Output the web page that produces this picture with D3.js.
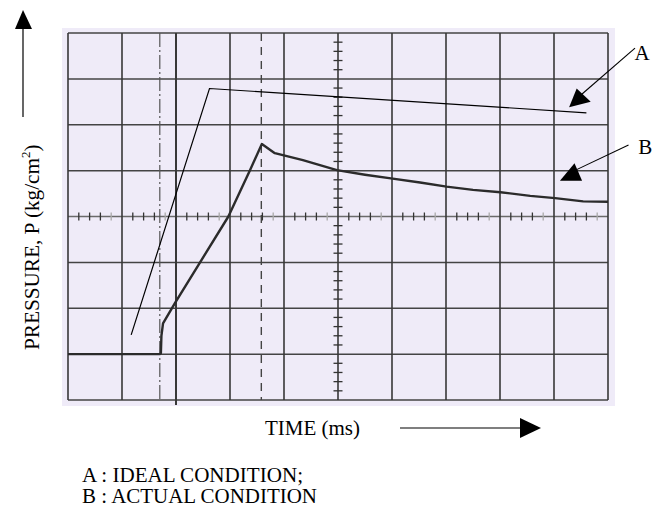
<!DOCTYPE html>
<html>
<head>
<meta charset="utf-8">
<script src="https://cdn.jsdelivr.net/npm/d3@7.9.0/dist/d3.min.js"></script>
<style>
  body { margin: 0; background: #fff; }
  svg { display: block; }
  svg text { font-family: "Liberation Serif", "DejaVu Serif", serif; }
</style>
</head>
<body>
<svg id="chart" width="665" height="508"></svg>
<script>
// screen divisions of the scope trace: x 0..10, y 0..8
const xDivs = d3.range(0, 11);
const yDivs = d3.range(0, 9);

// B: actual condition (measured trace)
const actualX = [0, 1.70, 1.72, 1.73, 1.76, 1.98, 2.44, 2.97, 3.37, 3.59, 3.83, 4.35, 4.98, 5.50, 5.98, 6.52, 7.01, 7.50, 8.01, 8.56, 9.02, 9.54, 10.0];
const actualY = [1.00, 1.00, 1.02, 1.40, 1.67, 2.11, 2.99, 4.00, 5.01, 5.58, 5.38, 5.23, 5.01, 4.91, 4.83, 4.74, 4.65, 4.58, 4.53, 4.45, 4.40, 4.33, 4.32];

// A: ideal condition
const idealX = [1.17, 2.62, 9.60];
const idealY = [1.42, 6.79, 6.26];

// reference cursors
const dashDotX = 1.70;
const dashedX = 3.58;

// annotation arrows: label, line start, head triangle
const labels = ['A', 'B'];
const labelPos = [[10.63, 7.56], [10.69, 5.51]];
const lineFrom = [[10.50, 7.67], [10.38, 5.56]];
const lineTo = [[9.45, 6.60], [9.38, 5.00]];
const heads = [
  [[9.28, 6.38], [9.42, 6.79], [9.68, 6.50]],
  [[9.11, 4.78], [9.52, 4.78], [9.38, 5.16]]
];

const legendLines = ['A : IDEAL CONDITION;', 'B : ACTUAL CONDITION'];
const legendWidths = [221, 235];

const svg = d3.select('#chart');
const x = d3.scaleLinear().domain([0, 10]).range([68, 608]);
const y = d3.scaleLinear().domain([0, 8]).range([400, 33]);

// paper
svg.append('rect')
  .attr('x', 62).attr('y', 28).attr('width', 553).attr('height', 378)
  .attr('fill', '#efebf8');

// grid
svg.append('g').selectAll('line').data(yDivs).join('line')
  .attr('x1', x(0)).attr('x2', x(10))
  .attr('y1', d => y(d)).attr('y2', d => y(d))
  .attr('stroke', d => d === 4 ? '#6a6a6a' : '#444')
  .attr('stroke-width', 1.5);

svg.append('g').selectAll('line').data(xDivs).join('line')
  .attr('x1', d => x(d)).attr('x2', d => x(d))
  .attr('y1', y(8)).attr('y2', d => d === 2 ? y(0) + 5 : y(0))
  .attr('stroke', '#383838')
  .attr('stroke-width', d => d === 2 ? 2 : 1.6);

// minor ticks on centre axes
const minor = d3.range(0, 10.01, 0.2).filter(v => Math.abs(v - Math.round(v)) > 0.01);
svg.append('g').selectAll('line').data(minor).join('line')
  .attr('x1', d => x(d)).attr('x2', d => x(d))
  .attr('y1', y(4) - 4).attr('y2', y(4) + 4)
  .attr('stroke', (d, i) => (i % 4 === 3) ? '#aaa' : '#333')
  .attr('stroke-width', 1.3);

const minorY = d3.range(0, 8.01, 0.2).filter(v => Math.abs(v - Math.round(v)) > 0.01);
svg.append('g').selectAll('line').data(minorY).join('line')
  .attr('x1', x(5) - 4.5).attr('x2', x(5) + 4.5)
  .attr('y1', d => y(d)).attr('y2', d => y(d))
  .attr('stroke', '#333')
  .attr('stroke-width', 1.3);

// cursors
svg.append('line')
  .attr('x1', x(dashDotX)).attr('x2', x(dashDotX))
  .attr('y1', y(8)).attr('y2', y(0))
  .attr('stroke', '#555').attr('stroke-width', 1.2)
  .attr('stroke-dasharray', '14,3,2,3');
svg.append('line')
  .attr('x1', x(dashedX)).attr('x2', x(dashedX))
  .attr('y1', y(8)).attr('y2', y(0))
  .attr('stroke', '#444').attr('stroke-width', 1.4)
  .attr('stroke-dasharray', '8,6');

// traces
const line = d3.line().x(d => x(d[0])).y(d => y(d[1]));
svg.append('path')
  .attr('d', line(d3.zip(actualX, actualY)))
  .attr('fill', 'none').attr('stroke', '#2b2b2b')
  .attr('stroke-width', 2.4).attr('stroke-linejoin', 'round');

svg.append('path')
  .attr('d', line(d3.zip(idealX, idealY)))
  .attr('fill', 'none').attr('stroke', '#000')
  .attr('stroke-width', 1.2);

// annotation arrows
labels.forEach((lab, i) => {
  svg.append('line')
    .attr('x1', x(lineFrom[i][0])).attr('y1', y(lineFrom[i][1]))
    .attr('x2', x(lineTo[i][0])).attr('y2', y(lineTo[i][1]))
    .attr('stroke', '#000').attr('stroke-width', 1.1);
  svg.append('polygon')
    .attr('points', heads[i].map(p => [x(p[0]), y(p[1])].join(',')).join(' '))
    .attr('fill', '#000');
  svg.append('text')
    .attr('x', x(labelPos[i][0])).attr('y', y(labelPos[i][1]) + 7)
    .attr('text-anchor', 'middle')
    .attr('font-size', 21).text(lab);
});

// y axis arrow + title
svg.append('line').attr('x1', 23).attr('x2', 23).attr('y1', 26).attr('y2', 117)
  .attr('stroke', '#000').attr('stroke-width', 1.2);
svg.append('polygon').attr('points', '23,10 15,29 32,29').attr('fill', '#000');

const yTitle = svg.append('text')
  .attr('transform', 'translate(39,350) rotate(-90)')
  .attr('font-size', 21);
yTitle.append('tspan').attr('textLength', 192).attr('lengthAdjust', 'spacingAndGlyphs')
  .text('PRESSURE, P (kg/cm');
yTitle.append('tspan').attr('font-size', 13).attr('dy', -9).text('2');
yTitle.append('tspan').attr('dy', 9).text(')');

// x title + arrow
svg.append('text').attr('x', 265).attr('y', 435)
  .attr('font-size', 21)
  .attr('textLength', 95).attr('lengthAdjust', 'spacingAndGlyphs')
  .text('TIME (ms)');
svg.append('line').attr('x1', 400).attr('x2', 522).attr('y1', 428).attr('y2', 428)
  .attr('stroke', '#000').attr('stroke-width', 1.2);
svg.append('polygon').attr('points', '520,418 520,438 541,428').attr('fill', '#000');

// legend
svg.append('g').selectAll('text').data(legendLines).join('text')
  .attr('x', 82).attr('y', (d, i) => 482 + i * 21)
  .attr('font-size', 20)
  .attr('textLength', (d, i) => legendWidths[i])
  .attr('lengthAdjust', 'spacingAndGlyphs')
  .text(d => d);
</script>
</body>
</html>
